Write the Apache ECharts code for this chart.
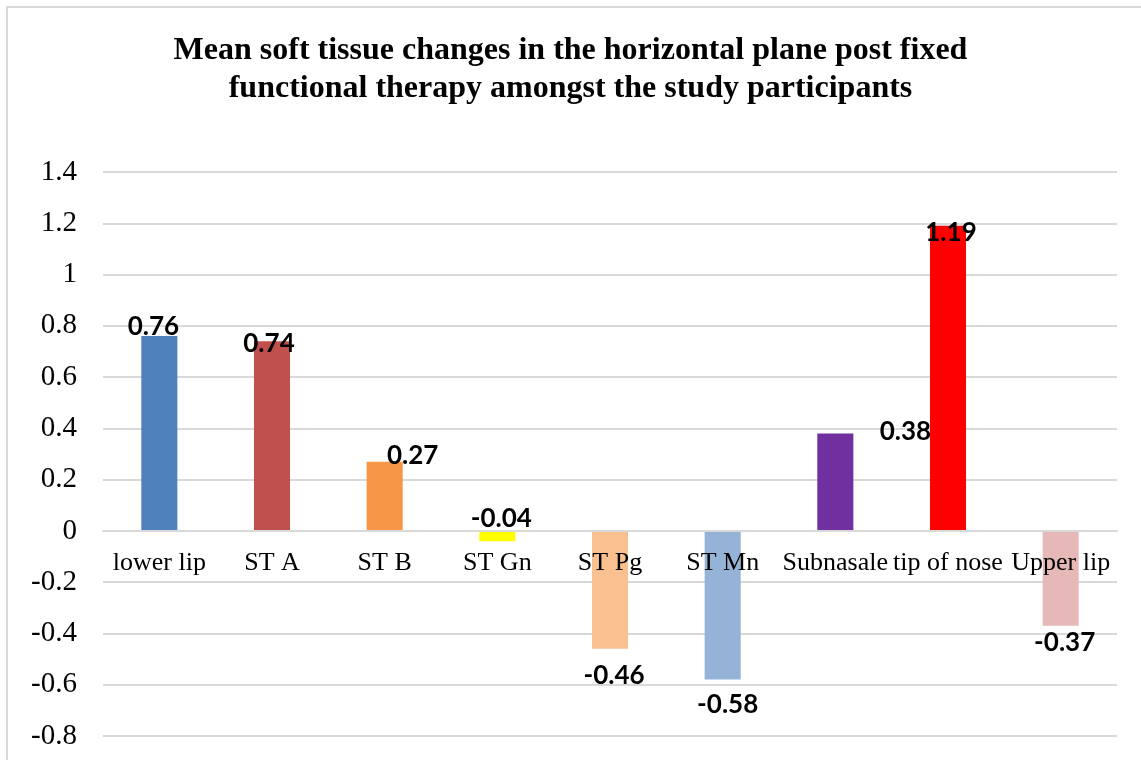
<!DOCTYPE html>
<html>
<head>
<meta charset="utf-8">
<script src="https://cdn.jsdelivr.net/npm/echarts@6/dist/echarts.min.js"></script>
<style>
  html, body { margin: 0; padding: 0; background: #fff; }
  #chart { width: 1141px; height: 760px; }
</style>
</head>
<body>
<div id="chart"></div>
<script>
// data
const categories = ['lower lip', 'ST A', 'ST B', 'ST Gn', 'ST Pg', 'ST Mn', 'Subnasale', 'tip of nose', 'Upper lip']
const values = [0.76, 0.74, 0.27, -0.04, -0.46, -0.58, 0.38, 1.19, -0.37]
const barColors = ['#4F81BD', '#C0504D', '#F79646', '#FFFF00', '#FAC090', '#95B3D7', '#7030A0', '#FF0000', '#E6B9B8']
const yMin = -0.8
const yMax = 1.4

// label nudges, like the hand-dragged labels in the original
const labelOffsets = [[-6, 4], [-3, 15], [28, 7], [4, -36], [4, 14], [5, 12], [70, 11], [3, 20], [4, 4]]

const gridTop = 172
const gridBottom = 24
const plotHeight = 760 - gridTop - gridBottom
// put the category axis on the zero line (labels move with it)
const zeroOffset = -plotHeight * (0 - yMin) / (yMax - yMin)

const myChart = echarts.init(document.getElementById('chart'))

myChart.setOption({
  animation: false,
  title: {
    text: 'Mean soft tissue changes in the horizontal plane post fixed\nfunctional therapy amongst the study participants',
    left: 'center',
    top: 27,
    textStyle: {
      fontFamily: 'Liberation Serif',
      fontWeight: 'bold',
      fontSize: 32,
      lineHeight: 38,
      color: '#000'
    }
  },
  graphic: [{
    type: 'rect',
    silent: true,
    shape: { x: 7, y: 7, width: 1140, height: 800 },
    style: { fill: 'none', stroke: '#d9d9d9', lineWidth: 2 }
  }],
  grid: { left: 103, right: 24, top: gridTop, bottom: gridBottom, containLabel: false, outerBoundsMode: 'none' },
  xAxis: {
    type: 'category',
    data: categories,
    z: 5,
    offset: zeroOffset,
    axisLine: { onZero: false, lineStyle: { color: '#d9d9d9', width: 2 } },
    axisTick: { show: false },
    axisLabel: {
      interval: 0,
      margin: 19,
      fontFamily: 'Liberation Serif',
      fontSize: 26,
      color: '#000'
    }
  },
  yAxis: {
    type: 'value',
    min: yMin,
    max: yMax,
    interval: 0.2,
    axisLine: { show: false },
    axisTick: { show: false },
    splitLine: { lineStyle: { color: '#d9d9d9', width: 2 } },
    axisLabel: {
      margin: 26,
      fontFamily: 'Liberation Serif',
      fontSize: 29,
      color: '#000',
      formatter: v => String(Math.round(v * 10) / 10)
    }
  },
  series: [{
    type: 'bar',
    barWidth: '32%',
    data: values.map((v, i) => ({
      value: v,
      itemStyle: { color: barColors[i] },
      label: { offset: labelOffsets[i] }
    })),
    label: {
      show: true,
      position: 'outside',
      distance: 0,
      fontFamily: 'Lato',
      fontWeight: 'bold',
      fontSize: 26,
      color: '#000',
      formatter: p => p.value.toFixed(2)
    }
  }]
})
</script>
</body>
</html>
